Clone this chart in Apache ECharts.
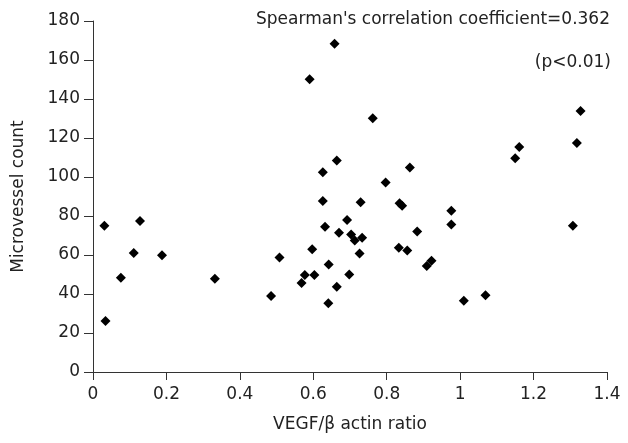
<!DOCTYPE html>
<html>
<head>
<meta charset="utf-8">
<script src="https://cdn.jsdelivr.net/npm/echarts@6/dist/echarts.min.js"></script>
<style>html,body{margin:0;padding:0;background:#fff}#c{width:628px;height:443px}</style>
</head>
<body>
<div id="c"></div>
<script>
var vegfRatio = [0.031,0.034,0.076,0.111,0.128,0.188,0.332,0.485,0.508,0.568,0.577,0.590,0.597,0.603,0.626,0.626,0.632,0.641,0.642,0.658,0.664,0.664,0.670,0.692,0.698,0.703,0.713,0.726,0.729,0.733,0.762,0.797,0.833,0.835,0.842,0.856,0.863,0.883,0.909,0.922,0.976,0.976,1.010,1.069,1.150,1.161,1.307,1.318,1.328];
var microvesselCount = [75.0,26.2,48.3,61.0,77.4,59.9,47.8,39.0,58.7,45.7,49.8,150.1,63.0,49.8,102.4,87.7,74.5,35.3,55.1,168.3,108.5,43.7,71.4,77.9,50.0,70.5,67.4,60.8,87.0,68.8,130.1,97.2,63.7,86.6,85.3,62.3,104.9,72.1,54.3,57.0,82.7,75.7,36.6,39.4,109.6,115.4,75.0,117.5,133.9];
var xTicks = [0,0.2,0.4,0.6,0.8,1,1.2,1.4];
var yTicks = [0,20,40,60,80,100,120,140,160,180];
var xName = 'VEGF/\u03b2 actin ratio';
var yName = 'Microvessel count';
var noteLine1 = "Spearman's correlation coefficient=0.362";
var noteLine2 = '(p<0.01)';

var pts = vegfRatio.map(function(v,i){return [v, microvesselCount[i]];});
var FONT = 'DejaVu Sans';
var TXT = '#222';
var chart = echarts.init(document.getElementById('c'), null, {renderer:'canvas'});
chart.setOption({
  animation:false,
  backgroundColor:'#fff',
  grid:{left:93,right:21,top:21,bottom:71,containLabel:false},
  xAxis:{
    type:'value', min:xTicks[0], max:xTicks[xTicks.length-1], interval:0.2,
    name:xName, nameLocation:'middle', nameGap:44,
    nameTextStyle:{fontFamily:FONT,fontSize:17,color:TXT},
    axisLine:{show:true,onZero:false,lineStyle:{color:'#333',width:1}},
    axisTick:{show:true,inside:false,length:8,lineStyle:{color:'#333'}},
    axisLabel:{fontFamily:FONT,fontSize:17,color:TXT,margin:14,
      formatter:function(v){return String(Math.round(v*10)/10);}},
    splitLine:{show:false}
  },
  yAxis:{
    type:'value', min:yTicks[0], max:yTicks[yTicks.length-1], interval:20,
    name:yName, nameLocation:'middle', nameGap:66, nameRotate:90,
    nameTextStyle:{fontFamily:FONT,fontSize:17,color:TXT},
    axisLine:{show:true,onZero:false,lineStyle:{color:'#333',width:1}},
    axisTick:{show:true,inside:false,length:9,lineStyle:{color:'#333'}},
    axisLabel:{fontFamily:FONT,fontSize:17,color:TXT,margin:13},
    splitLine:{show:false}
  },
  graphic:[
    {type:'text',right:18,top:11,style:{text:noteLine1,font:'17px "DejaVu Sans"',fill:TXT}},
    {type:'text',right:17,top:54,style:{text:noteLine2,font:'17px "DejaVu Sans"',fill:TXT}}
  ],
  series:[{
    type:'scatter', data:pts, symbol:'diamond', symbolSize:10,
    itemStyle:{color:'#000',opacity:1}
  }]
});
</script>
</body>
</html>
